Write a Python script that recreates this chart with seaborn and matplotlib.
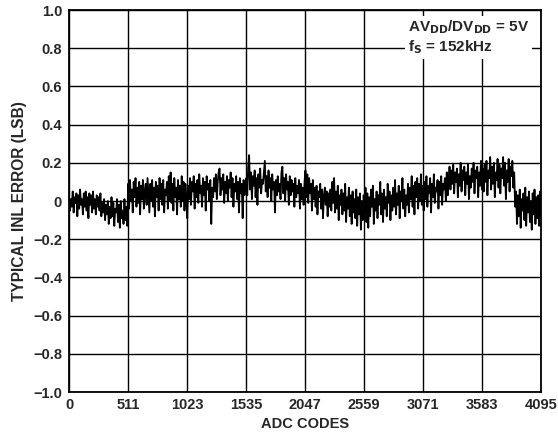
import numpy as np
import seaborn as sns
import matplotlib.pyplot as plt

# INL error (LSB), one value every 8 codes (8 blocks of 512 codes)
inl_seg0 = [0.03, -0.05, 0.01, -0.03, 0.05, -0.06, 0.02, -0.01, 0.04, -0.08, 0.03, -0.04, 0.06, -0.02, 0.01, -0.07,
            0.04, -0.03, 0.05, -0.05, 0.02, -0.09, 0.04, -0.02, 0.03, -0.06, 0.05, -0.04, 0.01, -0.07, 0.03, -0.03,
            0.02, -0.05, 0.04, -0.08, -0.01, -0.06, 0.01, -0.10, -0.02, -0.07, 0.00, -0.12, -0.03, -0.09, 0.02, -0.08,
            -0.01, -0.13, -0.04, -0.06, 0.01, -0.11, -0.02, -0.14, 0.00, -0.09, -0.05, -0.12, 0.01, -0.10, -0.03, -0.13]
inl_seg1 = [0.09, -0.04, 0.11, 0.00, 0.06, -0.06, 0.10, 0.02, 0.12, -0.03, 0.07, -0.01, 0.10, -0.07, 0.08, 0.01,
            0.11, -0.04, 0.05, 0.09, -0.02, 0.12, 0.03, -0.06, 0.09, 0.00, 0.11, -0.03, 0.07, -0.08, 0.10, 0.02,
            0.08, -0.05, 0.12, 0.01, 0.09, -0.02, 0.11, -0.06, 0.06, 0.03, 0.10, -0.04, 0.13, 0.00, 0.15, -0.01,
            0.09, -0.05, 0.12, 0.02, 0.07, -0.07, 0.11, 0.01, 0.08, -0.03, 0.13, 0.00, 0.10, -0.05, 0.09, 0.02]
inl_seg2 = [-0.09, 0.08, 0.01, 0.12, -0.02, 0.10, 0.05, 0.13, -0.04, 0.09, 0.02, 0.11, -0.01, 0.14, 0.04, 0.08,
            -0.03, 0.12, 0.03, 0.10, -0.05, 0.13, 0.06, 0.09, 0.00, 0.11, -0.12, 0.07, 0.02, 0.12, 0.05, 0.14,
            0.01, 0.10, 0.15, 0.17, 0.03, 0.12, 0.06, 0.14, -0.01, 0.10, 0.04, 0.13, 0.00, 0.11, 0.07, 0.15,
            0.02, 0.12, -0.03, 0.09, 0.05, 0.13, 0.01, 0.10, -0.06, 0.12, 0.04, 0.09, -0.09, 0.11, 0.03, 0.08]
inl_seg3 = [0.12, 0.03, 0.18, 0.24, 0.06, 0.15, 0.01, 0.13, 0.08, 0.16, 0.02, 0.12, -0.02, 0.14, 0.07, 0.17,
            0.04, 0.11, 0.09, 0.15, 0.21, 0.05, 0.13, 0.02, 0.16, 0.07, 0.12, 0.00, 0.14, 0.06, 0.10, -0.06,
            0.11, 0.03, 0.13, 0.05, 0.09, 0.01, 0.15, 0.18, 0.04, 0.12, 0.00, 0.14, 0.06, 0.10, -0.02, 0.13,
            0.03, 0.11, 0.05, 0.09, -0.03, 0.12, 0.02, 0.08, 0.04, 0.11, -0.04, 0.09, 0.01, 0.07, -0.02, 0.10]
inl_seg4 = [0.16, 0.02, 0.14, -0.01, 0.12, 0.04, 0.09, -0.05, 0.11, 0.01, 0.07, -0.03, 0.08, -0.07, 0.05, 0.02,
            0.09, -0.04, 0.06, -0.09, 0.03, 0.07, -0.02, 0.05, -0.08, 0.04, -0.03, 0.06, -0.05, 0.10, -0.01, 0.12,
            -0.06, 0.05, -0.04, 0.08, -0.10, 0.03, -0.02, 0.06, -0.07, 0.04, -0.05, 0.09, -0.11, 0.02, -0.04, 0.07,
            -0.08, 0.03, -0.12, 0.05, -0.06, 0.01, -0.09, 0.06, -0.13, 0.02, -0.07, 0.04, -0.15, 0.00, -0.10, 0.03]
inl_seg5 = [-0.06, 0.07, -0.11, 0.04, -0.14, 0.02, -0.08, 0.06, -0.03, 0.08, -0.12, 0.01, -0.05, 0.05, -0.09, 0.03,
            -0.02, 0.10, -0.07, 0.04, -0.11, 0.06, -0.04, 0.02, -0.08, 0.09, -0.01, 0.05, -0.10, 0.03, -0.05, 0.07,
            -0.03, 0.11, -0.07, 0.04, -0.02, 0.08, -0.09, 0.05, 0.00, 0.12, -0.04, 0.06, -0.08, 0.03, -0.02, 0.09,
            -0.06, 0.07, 0.01, 0.13, -0.03, 0.08, -0.07, 0.10, 0.02, 0.12, -0.04, 0.09, 0.00, 0.14, -0.02, 0.08]
inl_seg6 = [-0.05, 0.10, 0.01, 0.13, -0.03, 0.08, 0.04, 0.12, -0.06, 0.09, 0.02, 0.14, -0.01, 0.07, 0.05, 0.11,
            -0.04, 0.10, 0.03, 0.13, -0.02, 0.09, 0.06, 0.12, 0.00, 0.15, 0.03, 0.11, 0.18, 0.06, 0.16, 0.09,
            0.19, 0.04, 0.15, 0.10, 0.17, 0.02, 0.14, 0.08, 0.20, 0.05, 0.16, 0.11, 0.18, 0.03, 0.15, 0.09,
            0.19, 0.01, 0.13, 0.07, 0.17, 0.10, 0.20, 0.04, 0.16, 0.12, 0.18, 0.02, 0.15, 0.08, 0.21, 0.06]
inl_seg7 = [0.17, 0.05, 0.19, 0.10, 0.21, 0.03, 0.16, 0.12, 0.23, 0.06, 0.18, 0.09, 0.20, 0.02, 0.15, 0.11,
            0.22, 0.07, 0.19, 0.04, 0.17, 0.12, 0.23, 0.08, 0.20, 0.01, 0.16, 0.10, 0.22, 0.05, 0.18, 0.13,
            0.21, 0.07, 0.15, -0.03, 0.05, -0.12, 0.03, -0.08, 0.06, -0.14, 0.01, -0.05, 0.04, -0.10, 0.07, -0.13,
            0.02, -0.06, 0.05, -0.11, 0.00, -0.15, 0.04, -0.07, 0.06, -0.12, 0.02, -0.09, 0.03, -0.13, 0.05, -0.08]

inl = inl_seg0 + inl_seg1 + inl_seg2 + inl_seg3 + inl_seg4 + inl_seg5 + inl_seg6 + inl_seg7
codes = np.linspace(0, 4095, len(inl))

x_ticks = [0, 511, 1023, 1535, 2047, 2559, 3071, 3583, 4095]
y_ticks = [1.0, 0.8, 0.6, 0.4, 0.2, 0, -0.2, -0.4, -0.6, -0.8, -1.0]
y_labels = ["1.0", "0.8", "0.6", "0.4", "0.2", "0", "\u22120.2", "\u22120.4", "\u22120.6", "\u22120.8", "\u22121.0"]

sns.set_style("white")
plt.rcParams['font.family'] = ['Liberation Sans', 'DejaVu Sans']
plt.rcParams['font.weight'] = 'bold'

fig = plt.figure(figsize=(5.58, 4.43), dpi=100)
ax = fig.add_axes([0.1237, 0.1151, 0.9695 - 0.1237, 0.9774 - 0.1151])

sns.lineplot(x=codes, y=inl, ax=ax, color='black', linewidth=1.3, zorder=3)

ax.set_xlim(0, 4095)
ax.set_ylim(-1.0, 1.0)
ax.set_xticks(x_ticks)
ax.set_xticklabels([str(t) for t in x_ticks], fontsize=10.5, fontweight='bold')
ax.set_yticks(y_ticks)
ax.set_yticklabels(y_labels, fontsize=10.5, fontweight='bold')
ax.tick_params(axis='both', length=0)
ax.tick_params(axis='x', pad=4)
ax.tick_params(axis='y', pad=5)
ax.grid(True, color='black', linewidth=1.0)
ax.set_axisbelow(True)
for s in ax.spines.values():
    s.set_color('black')
    s.set_linewidth(1.3)
    s.set_zorder(5)

ax.set_xlabel("ADC CODES", fontsize=10.5, fontweight='bold', labelpad=4)
ax.set_ylabel("TYPICAL INL ERROR (LSB)", fontsize=11.2, fontweight='bold', labelpad=4)

ax.text(0.718, 0.978, "AV$_{\\mathbf{DD}}$/DV$_{\\mathbf{DD}}$ = 5V\nf$_{\\mathbf{S}}$ = 152kHz",
        transform=ax.transAxes, ha='left', va='top', fontsize=11, fontweight='bold', linespacing=1.15,
        zorder=4, bbox=dict(facecolor='white', edgecolor='none', pad=2))

fig.savefig("out.png", dpi=100)
